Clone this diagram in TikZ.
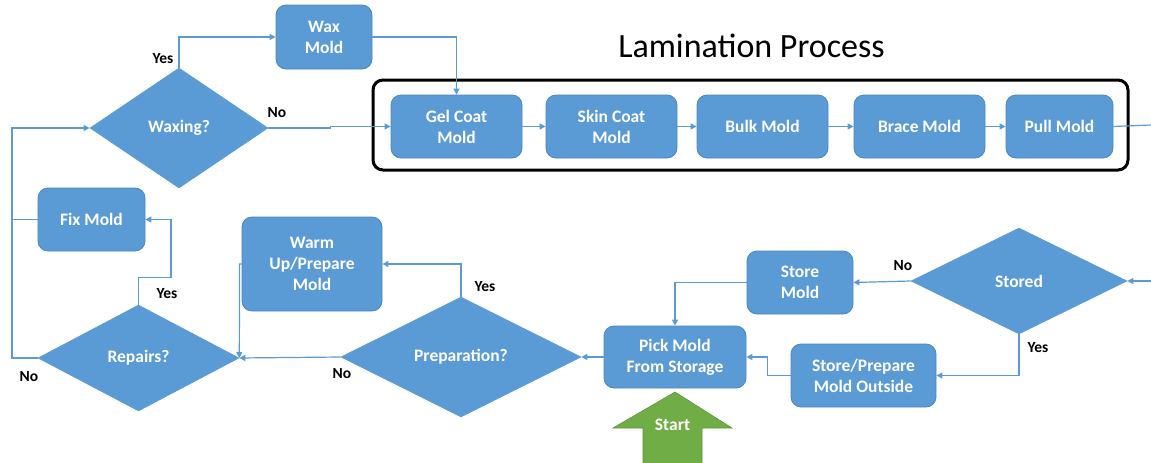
\documentclass[tikz,border=0pt]{standalone}
\usepackage{fontspec}
\setmainfont{Carlito}
\usetikzlibrary{shapes.geometric,arrows.meta}

\definecolor{boxblue}{HTML}{5B9BD5}
\definecolor{boxedge}{HTML}{4A86BF}
\definecolor{linkblue}{HTML}{5B9BD5}
\definecolor{startgreen}{HTML}{70AD47}
\definecolor{startedge}{HTML}{5E9639}

\tikzset{
  stepbox/.style={rectangle, rounded corners=10pt, fill=boxblue, draw=boxedge,
    line width=0.8pt, text=white, align=center, inner sep=0pt,
    font=\bfseries\fontsize{17.5}{21}\selectfont},
  decision/.style={diamond, fill=boxblue, draw=boxblue, line width=0.6pt,
    text=white, inner sep=0pt, font=\bfseries\fontsize{17.5}{21}\selectfont},
  link/.style={draw=linkblue, line width=1.2pt},
  arr/.style={link, -{Triangle[length=6pt,width=6pt]}},
  answer/.style={font=\bfseries\fontsize{15.5}{18}\selectfont, text=black, inner sep=0pt},
}

\begin{document}
\begin{tikzpicture}[x=1pt,y=-1pt]
\useasboundingbox (0,0) rectangle (1151,463);

% title and the lamination frame
\node[anchor=base, font=\fontsize{34}{40}\selectfont, inner sep=0pt] (title) at (751.5,57) {Lamination Process};
\node[draw=black, line width=3pt, rounded corners=10pt, minimum width=755pt, minimum height=90pt, inner sep=0pt] (frame) at (750.5,125) {};

% lamination steps
\node[stepbox, minimum width=131pt, minimum height=63pt] (gel)   at (456.5,126.5) {Gel Coat\\Mold};
\node[stepbox, minimum width=131pt, minimum height=63pt] (skin)  at (611.5,126.5) {Skin Coat\\Mold};
\node[stepbox, minimum width=131pt, minimum height=63pt] (bulk)  at (762.5,126.5) {Bulk Mold};
\node[stepbox, minimum width=131pt, minimum height=63pt] (brace) at (919.5,126.5) {Brace Mold};
\node[stepbox, minimum width=107pt, minimum height=63pt] (pull)  at (1059.5,126.5) {Pull Mold};

% waxing branch
\node[stepbox, minimum width=96pt, minimum height=64pt] (wax) at (324,37) {Wax\\Mold};
\node[decision, minimum width=178pt, minimum height=120pt] (waxing) at (179,128) {Waxing?};

% repair / preparation branch
\node[stepbox, minimum width=107pt, minimum height=63pt] (fix) at (91.5,219.5) {Fix Mold};
\node[decision, minimum width=201pt, minimum height=106pt] (rep) at (138.5,358) {Repairs?};
\node[stepbox, minimum width=140pt, minimum height=94pt] (warm) at (312,264) {Warm\\Up/Prepare\\Mold};
\node[decision, minimum width=240pt, minimum height=120pt] (prep) at (461,357) {Preparation?};

% storage branch
\node[stepbox, minimum width=142pt, minimum height=62pt] (pick) at (675,357) {Pick Mold\\From Storage};
\node[stepbox, minimum width=106pt, minimum height=63pt] (storem) at (800,282.5) {Store\\Mold};
\node[stepbox, minimum width=145pt, minimum height=63pt] (storep) at (863.5,375.5) {Store/Prepare\\Mold Outside};
\node[decision, minimum width=216pt, minimum height=106pt] (stored) at (1019,281) {Stored};

% start arrow
\fill[startgreen, draw=startedge, line width=0.6pt]
  (643,470) -- (643,428) -- (613,428) -- (675,392) -- (732,428) -- (702,428) -- (702,470) -- cycle;
\node[text=white, font=\bfseries\fontsize{17.5}{21}\selectfont, inner sep=0pt] (start) at (672.5,425) {Start};

% free ends and bends
\coordinate (pullout) at (1151,125);
\coordinate (storedin) at (1151,281);
\coordinate (lx) at (12,358);

% connectors
\draw[arr] (waxing.north) |- (wax.west);
\draw[arr] (wax.east) -| (gel.north);
\draw[arr] (waxing.east) -- ++(62,0) |- (gel.west);
\draw[arr] (gel) -- (skin);
\draw[arr] (skin) -- (bulk);
\draw[arr] (bulk) -- (brace);
\draw[arr] (brace) -- (pull);
\draw[link] (pull.east) -- (pullout);

\draw[arr] (storedin) -- (stored.east);
\draw[arr] (stored.west) -- (storem.east);
\draw[arr] (stored.south) |- (storep.east);
\draw[arr] (storem.west) -| (pick.north);
\draw[arr] (storep.west) -- ++(-23,0) |- (pick.east);
\draw[arr] (pick.west) -- (prep.east);
\draw[arr] (prep.north) |- (warm.east);
\draw[arr] (prep.west) -- (rep.east);
\draw[arr] (warm.west) -- ++(-2,0) -- (rep.east);
\draw[arr] (rep.north) -- ++(0,-27) -- ++(32.5,0) |- (fix.east);
\draw[arr] (rep.west) -- (lx) |- (waxing.west);
\draw[link] (fix.west) -- (fix.west -| lx);

% branch answers
\node[answer] (waxyes)    at (163,59)  {Yes};
\node[answer] (waxno)     at (277,113) {No};
\node[answer] (repyes)    at (167,294) {Yes};
\node[answer] (repno)     at (29,377)  {No};
\node[answer] (prepyes)   at (485,287) {Yes};
\node[answer] (prepno)    at (342,374) {No};
\node[answer] (storedno)  at (903,266) {No};
\node[answer] (storedyes) at (1038,348) {Yes};
\end{tikzpicture}
\end{document}
